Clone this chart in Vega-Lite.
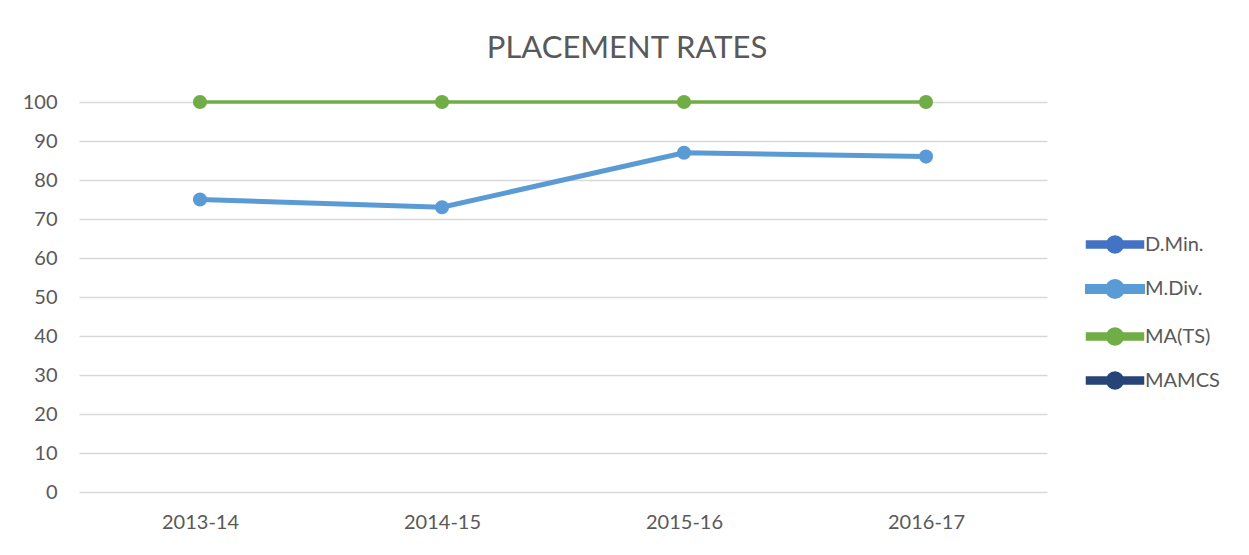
{
  "$schema": "https://vega.github.io/schema/vega-lite/v6.json",
  "autosize": {"type": "none"},
  "padding": {"left": 79, "top": 102, "right": 202, "bottom": 63},
  "width": 968,
  "height": 390,
  "background": "white",
  "title": {
    "text": "PLACEMENT RATES",
    "fontSize": 31,
    "font": "Lato",
    "fontWeight": "normal",
    "color": "#595959",
    "anchor": "middle",
    "baseline": "alphabetic",
    "offset": 3,
    "dx": 64
  },
  "data": {
    "values": [
      {"year": "2013-14", "program": "M.Div.", "rate": 75},
      {"year": "2014-15", "program": "M.Div.", "rate": 73},
      {"year": "2015-16", "program": "M.Div.", "rate": 87},
      {"year": "2016-17", "program": "M.Div.", "rate": 86},
      {"year": "2013-14", "program": "MA(TS)", "rate": 100},
      {"year": "2014-15", "program": "MA(TS)", "rate": 100},
      {"year": "2015-16", "program": "MA(TS)", "rate": 100},
      {"year": "2016-17", "program": "MA(TS)", "rate": 100}
    ]
  },
  "encoding": {
    "x": {
      "field": "year",
      "type": "nominal",
      "sort": null,
      "scale": {"paddingInner": 0, "paddingOuter": 0},
      "axis": {
        "title": null,
        "labelAngle": 0,
        "labelFont": "Lato",
        "labelFontSize": 20,
        "labelColor": "#595959",
        "labelPadding": 20,
        "ticks": false,
        "domain": false,
        "grid": false
      }
    },
    "y": {
      "field": "rate",
      "type": "quantitative",
      "scale": {"domain": [0, 100], "nice": false},
      "axis": {
        "title": null,
        "values": [0, 10, 20, 30, 40, 50, 60, 70, 80, 90, 100],
        "labelFont": "Lato",
        "labelFontSize": 20,
        "labelColor": "#595959",
        "labelPadding": 22,
        "ticks": false,
        "domain": false,
        "grid": true,
        "gridColor": "#d9d9d9",
        "gridWidth": 1.3
      }
    },
    "color": {
      "field": "program",
      "type": "nominal",
      "scale": {
        "domain": ["D.Min.", "M.Div.", "MA(TS)", "MAMCS"],
        "range": ["#4472C4", "#5B9BD5", "#70AD47", "#264478"]
      },
      "legend": {
        "title": null,
        "orient": "none",
        "legendX": 1006,
        "legendY": 113,
        "symbolType": "M-1,-0.09H1V0.09H-1Z M0.27,0 A0.27,0.27 0 1,1 -0.27,0 A0.27,0.27 0 1,1 0.27,0Z",
        "symbolSize": 3025,
        "symbolStrokeWidth": 0,
        "labelFont": "Lato",
        "labelFontSize": 20,
        "labelColor": "#595959",
        "labelOffset": 0,
        "rowPadding": -3.5
      }
    }
  },
  "layer": [
    {
      "mark": {"type": "line"},
      "encoding": {
        "strokeWidth": {
          "field": "program",
          "type": "nominal",
          "scale": {"type": "ordinal", "domain": ["D.Min.", "M.Div.", "MA(TS)", "MAMCS"], "range": [3.5, 5, 3.5, 3.5]},
          "legend": null
        }
      }
    },
    {
      "mark": {"type": "point", "filled": true, "size": 200, "opacity": 1}
    }
  ],
  "config": {"view": {"stroke": null}}
}
